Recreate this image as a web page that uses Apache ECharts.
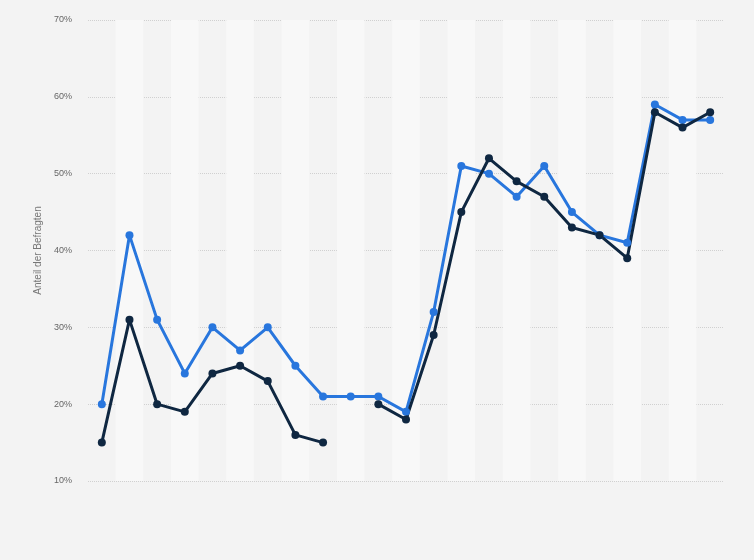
<!DOCTYPE html>
<html>
<head>
    <meta charset="utf-8">
    <title>ECharts</title>
    <script src="https://cdn.jsdelivr.net/npm/echarts@6/dist/echarts.min.js"></script>
    <style>
        html, body { margin: 0; padding: 0; background: #f3f3f3; }
    </style>
</head>
<body>
    <div id="main" style="width: 754px;height:560px;"></div>
    <script type="text/javascript">
        // Kategorien (ohne sichtbare Beschriftung im Original)
        var categories = ['1','2','3','4','5','6','7','8','9','10','11','12',
                          '13','14','15','16','17','18','19','20','21','22','23'];
        // blaue Linie
        var seriesBlue = [20, 42, 31, 24, 30, 27, 30, 25, 21, 21, 21, 19,
                          32, 51, 50, 47, 51, 45, 42, 41, 59, 57, 57];
        // dunkle Linie (Lücke bei Kategorie 10)
        var seriesDark = [15, 31, 20, 19, 24, 25, 23, 16, 15, null, 20, 18,
                          29, 45, 52, 49, 47, 43, 42, 39, 58, 56, 58];
        var yTicks = [10, 20, 30, 40, 50, 60, 70];

        var myChart = echarts.init(document.getElementById('main'));
        myChart.setOption({
            backgroundColor: '#f3f3f3',
            animation: false,
            grid: {
                left: 88,
                right: 30,
                top: 20,
                bottom: 79
            },
            xAxis: {
                type: 'category',
                data: categories,
                boundaryGap: true,
                axisLine: { show: false },
                axisTick: { show: false },
                axisLabel: { show: false },
                splitLine: { show: false },
                splitArea: {
                    show: true,
                    areaStyle: { color: ['rgba(255,255,255,0)', '#f8f8f8'] }
                }
            },
            yAxis: {
                type: 'value',
                min: yTicks[0],
                max: yTicks[yTicks.length - 1],
                interval: 10,
                name: 'Anteil der Befragten',
                nameLocation: 'middle',
                nameGap: 44,
                nameTextStyle: {
                    color: '#777',
                    fontSize: 10,
                    fontFamily: 'Arial, Liberation Sans, sans-serif'
                },
                axisLine: { show: false },
                axisTick: { show: false },
                axisLabel: {
                    formatter: '{value}%',
                    color: '#666',
                    fontSize: 9,
                    margin: 16,
                    fontFamily: 'Arial, Liberation Sans, sans-serif'
                },
                splitLine: {
                    lineStyle: { color: '#d0d0d0', type: 'dotted', width: 1 }
                }
            },
            series: [
                {
                    name: 'Blau',
                    type: 'line',
                    data: seriesBlue,
                    symbol: 'circle',
                    symbolSize: 8,
                    lineStyle: { color: '#2876dd', width: 3 },
                    itemStyle: { color: '#2876dd' }
                },
                {
                    name: 'Dunkel',
                    type: 'line',
                    data: seriesDark,
                    symbol: 'circle',
                    symbolSize: 8,
                    connectNulls: false,
                    lineStyle: { color: '#0f2741', width: 3 },
                    itemStyle: { color: '#0f2741' }
                }
            ]
        });
    </script>
</body>
</html>
